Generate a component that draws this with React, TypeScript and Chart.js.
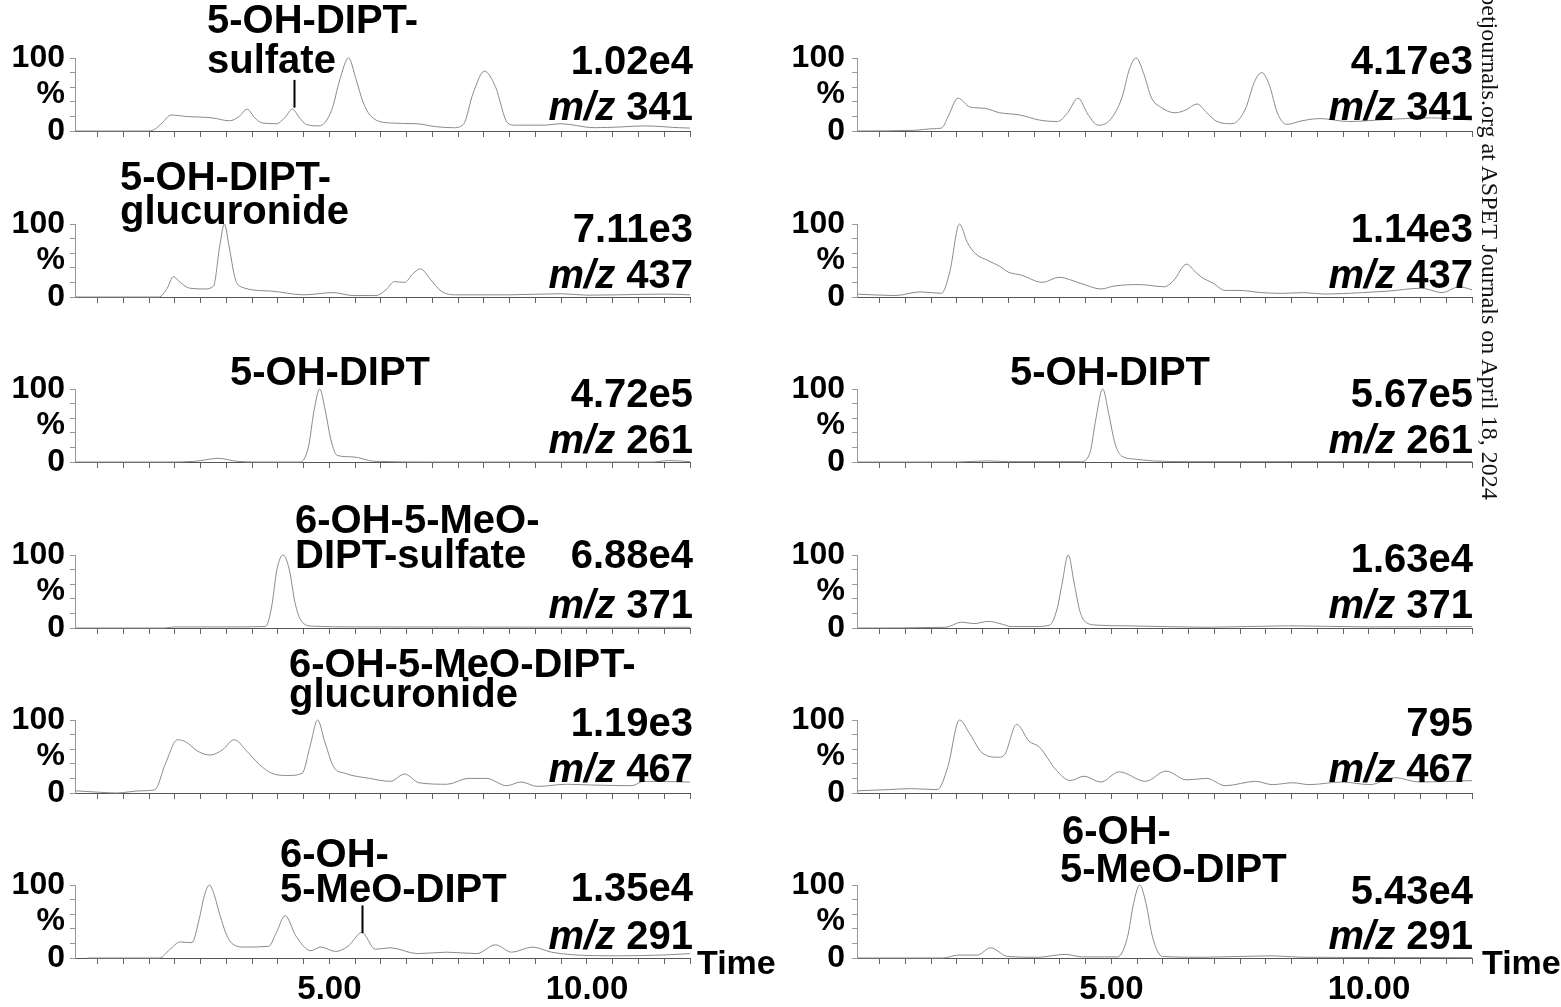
import React, { useEffect, useRef } from 'react';
import { Chart, registerables } from 'chart.js';

Chart.register(...registerables);

// ---------------- data ----------------
const X_TICKS = [0.5, 1, 1.5, 2, 2.5, 3, 3.5, 4, 4.5, 5, 5.5, 6, 6.5, 7, 7.5, 8, 8.5, 9, 9.5, 10, 10.5, 11, 11.5, 12];
const X_TICK_LABELS: Record<string, string> = { '5': '5.00', '10': '10.00' };
const Y_TICKS = [0, 20, 40, 50, 60, 80, 100];
const Y_TICK_LABELS: Record<string, string> = { '0': '0', '50': '%', '100': '100' };

const MZ_LEFT = ['341', '437', '261', '371', '467', '291'];
const MZ_RIGHT = ['341', '437', '261', '371', '467', '291'];
const INTENSITY_LEFT = ['1.02e4', '7.11e3', '4.72e5', '6.88e4', '1.19e3', '1.35e4'];
const INTENSITY_RIGHT = ['4.17e3', '1.14e3', '5.67e5', '1.63e4', '795', '5.43e4'];

// [time (min), relative abundance %]
const L1: [number, number][] = [[0.06,0],[1.45,0],[1.6,2],[1.75,11],[1.93,22],[2.2,20],[2.72,18],[3.06,14],[3.25,20],[3.4,30],[3.55,18],[3.7,11],[3.97,10],[4.13,18],[4.28,30],[4.42,18],[4.55,9],[4.8,7],[5.04,28],[5.2,70],[5.37,100],[5.52,70],[5.65,40],[5.81,20],[6.19,11],[6.68,10],[7.06,6],[7.4,4.5],[7.6,9],[7.79,52],[8.01,82],[8.22,61],[8.46,11],[8.61,8],[9.19,8],[9.48,10],[10.15,4.5],[10.64,5.5],[11.12,7],[11.79,4.5],[12,4]];
const L2: [number, number][] = [[0.06,0],[1.69,0],[1.85,12],[1.97,28],[2.1,20],[2.29,12],[2.57,11],[2.75,15],[2.87,70],[2.96,100],[3.05,70],[3.17,25],[3.28,14],[3.88,8],[4.5,3],[5.07,6],[5.46,2],[5.9,2],[6.1,10],[6.26,21],[6.46,20],[6.62,32],[6.77,38.5],[6.95,25],[7.17,8],[7.45,3],[8.5,3],[9.5,4.5],[10.0,2.5],[10.6,3],[11.5,4],[12,3]];
const L3: [number, number][] = [[0.06,0],[1.85,0],[2.4,1],[2.84,5],[3.2,1],[3.6,0],[4.43,0],[4.59,20],[4.7,70],[4.81,100],[4.92,70],[5.03,30],[5.15,9],[5.46,7],[5.86,1],[7.0,0],[11.3,0],[11.58,2],[12,0.5]];
const L4: [number, number][] = [[0.06,0],[1.8,0],[2.0,1.5],[3.0,1.5],[3.76,2],[3.88,30],[3.98,80],[4.1,100],[4.22,80],[4.33,35],[4.45,10],[4.67,2.5],[5.5,1.5],[12,1]];
const L5: [number, number][] = [[0.06,3],[0.54,1],[0.86,0],[1.33,3],[1.61,4.5],[1.81,39],[2.05,73],[2.21,70],[2.45,57],[2.68,52],[2.92,59],[3.15,73],[3.4,57],[3.64,39],[3.88,27],[4.19,24],[4.47,27],[4.63,66],[4.77,100],[4.91,70],[5.08,36],[5.3,27],[5.78,20],[6.18,16],[6.46,26],[6.74,14],[7.29,12],[7.69,20],[8.05,20],[8.44,10],[8.72,15],[9.04,9],[9.6,12],[10.07,11],[10.87,10],[11.1,16],[12,15]];
const L6: [number, number][] = [[0.3,0],[1.7,0],[1.9,11.5],[2.1,22],[2.33,21],[2.47,53],[2.57,85],[2.67,100],[2.77,85],[2.86,62],[3.05,25],[3.34,15],[3.82,16],[3.97,35],[4.14,58],[4.35,30],[4.64,10],[4.83,15],[5.12,9],[5.36,16],[5.63,35],[5.89,12],[6.18,14],[6.71,6],[7.28,8],[7.86,6],[8.22,18],[8.54,8],[8.94,15],[9.31,8],[9.69,4.6],[10.65,3],[11.42,4],[12,6]];

const R1: [number, number][] = [[0.06,0],[1.2,1],[1.5,3],[1.7,4],[1.83,20],[2.02,45],[2.25,33],[2.54,31],[2.83,25],[3.22,22],[3.6,15],[3.95,13],[4.15,25],[4.35,45],[4.55,22],[4.74,8],[4.97,15],[5.2,45],[5.35,85],[5.48,100],[5.62,80],[5.78,45],[5.95,33],[6.23,25],[6.45,29],[6.66,37],[6.85,25],[7.05,13],[7.34,10],[7.6,30],[7.78,68],[7.92,80],[8.07,62],[8.22,25],[8.4,9],[8.7,14],[9.05,17],[9.6,13],[10.4,16],[11.2,18],[12,15]];
const R2: [number, number][] = [[0.06,4],[0.8,2],[1.29,7],[1.7,5],[1.86,34],[2.05,100],[2.2,75],[2.35,60],[2.6,50],[2.83,42],[3.0,34],[3.25,30],[3.66,20],[3.98,27],[4.39,19],[4.8,11],[5.05,15],[5.54,17],[6.03,14],[6.2,22],[6.46,45],[6.62,35],[6.75,27],[6.97,19],[7.21,9],[7.5,9],[7.91,6],[8.32,5],[8.73,6],[9.14,4],[9.87,6],[10.36,8],[11.02,12],[11.42,6],[11.75,14],[12,10]];
const R3: [number, number][] = [[0.06,0],[2.0,0],[2.6,1.5],[3.0,0.5],[4.4,0.5],[4.58,12],[4.7,60],[4.83,100],[4.95,65],[5.07,25],[5.2,8],[5.45,4],[5.8,1.5],[6.5,0.5],[12,0.5]];
const R4: [number, number][] = [[0.06,0],[1.78,1],[2.09,8],[2.33,6],[2.61,9],[2.89,5],[3.05,2],[3.52,2],[3.8,4],[3.94,25],[4.04,60],[4.16,100],[4.28,60],[4.38,25],[4.47,10],[4.71,4],[5.27,3],[6.85,1],[8.44,3],[10.0,1.5],[12,2]];
const R5: [number, number][] = [[0.06,3],[0.67,4.6],[1.1,6],[1.62,4.6],[1.82,35],[2.05,100],[2.25,81],[2.49,55],[2.81,49],[2.93,53],[3.16,94],[3.4,71],[3.6,63],[3.92,32],[4.2,17],[4.47,23],[4.79,15],[5.15,29],[5.66,16],[6.06,30],[6.46,18],[6.85,20],[7.21,10],[7.8,16],[8.12,11.5],[8.52,14],[8.84,11.5],[9.47,15],[10.02,11.5],[10.5,21],[10.98,15],[12,17]];
const R6: [number, number][] = [[0.06,0],[1.73,0],[2.02,4],[2.4,4],[2.65,14],[2.99,2],[3.57,1],[4.1,5],[4.44,1.5],[5.12,1.5],[5.31,28],[5.43,75],[5.55,100],[5.67,75],[5.8,28],[5.99,2],[6.77,1],[8.12,3],[8.7,1],[12,0.5]];

const SERIES_LEFT = [L1, L2, L3, L4, L5, L6];
const SERIES_RIGHT = [R1, R2, R3, R4, R5, R6];

// ---------------- layout / style ----------------
const FONT = '"Liberation Sans", Arial, Helvetica, sans-serif';
const LABEL_SIZE = 40;
const X_MIN = 0.06;
const X_MAX = 12;
const ROW_BASE = [131, 297, 462, 628, 793, 958];
const CANVAS_W = 780;
const CANVAS_H = 200;
const BASE_IN_CANVAS = 150;
const PLOT_H = 73;
const COL = [
  { left: 0, axisX: 75, padRight: 90, textRight: 693, labelPad: 5, timeX: 697 },
  { left: 780, axisX: 77, padRight: 88, textRight: 1473, labelPad: 7, timeX: 1482 },
];

type Label = [string, number, number];
const LABELS_LEFT: Label[][] = [
  [['5-OH-DIPT-', 207, 33], ['sulfate', 207, 73]],
  [['5-OH-DIPT-', 120, 190], ['glucuronide', 120, 224]],
  [['5-OH-DIPT', 230, 385]],
  [['6-OH-5-MeO-', 295, 533], ['DIPT-sulfate', 295, 568]],
  [['6-OH-5-MeO-DIPT-', 289, 677], ['glucuronide', 289, 707]],
  [['6-OH-', 280, 867], ['5-MeO-DIPT', 280, 902]],
];
const LABELS_RIGHT: Label[][] = [
  [], [], [['5-OH-DIPT', 1010, 385]], [], [],
  [['6-OH-', 1062, 844], ['5-MeO-DIPT', 1060, 882]],
];
const INT_Y_LEFT = [74, 242, 407, 568, 736, 901];
const INT_Y_RIGHT = [74, 242, 407, 572, 736, 904];
const MZ_Y = [120, 288, 453, 618, 782, 949];
const MARKERS_LEFT: ({ t: number; v0: number; v1: number } | null)[] = [
  { t: 4.31, v0: 32, v1: 70 }, null, null, null, null, { t: 5.63, v0: 34, v1: 72 },
];

interface PanelSpec {
  col: number;
  row: number;
  series: [number, number][];
  intensity: string;
  mz: string;
  labels: Label[];
  intY: number;
  mzY: number;
  marker: { t: number; v0: number; v1: number } | null;
}

const PANELS: PanelSpec[] = [];
for (let r = 0; r < 6; r++) {
  PANELS.push({ col: 0, row: r, series: SERIES_LEFT[r], intensity: INTENSITY_LEFT[r], mz: MZ_LEFT[r], labels: LABELS_LEFT[r], intY: INT_Y_LEFT[r], mzY: MZ_Y[r], marker: MARKERS_LEFT[r] });
  PANELS.push({ col: 1, row: r, series: SERIES_RIGHT[r], intensity: INTENSITY_RIGHT[r], mz: MZ_RIGHT[r], labels: LABELS_RIGHT[r], intY: INT_Y_RIGHT[r], mzY: MZ_Y[r], marker: null });
}

function Panel({ spec }: { spec: PanelSpec }) {
  const ref = useRef<HTMLCanvasElement>(null);
  const col = COL[spec.col];
  const top = ROW_BASE[spec.row] - BASE_IN_CANVAS;
  const isBottom = spec.row === 5;

  useEffect(() => {
    if (!ref.current) return;
    const annot = {
      id: 'annot',
      afterDraw(chart: any) {
        const ctx = chart.ctx as CanvasRenderingContext2D;
        const ox = col.left;
        const oy = top;
        ctx.save();
        ctx.fillStyle = '#000';
        ctx.textBaseline = 'alphabetic';
        ctx.font = `bold ${LABEL_SIZE}px ${FONT}`;
        ctx.textAlign = 'left';
        spec.labels.forEach(([t, x, y]) => ctx.fillText(t, x - ox, y - oy));
        ctx.textAlign = 'right';
        ctx.fillText(spec.intensity, col.textRight - ox, spec.intY - oy);
        const num = ' ' + spec.mz;
        const wNum = ctx.measureText(num).width;
        ctx.fillText(num, col.textRight - ox, spec.mzY - oy);
        ctx.font = `italic bold ${LABEL_SIZE}px ${FONT}`;
        ctx.fillText('m/z', col.textRight - ox - wNum, spec.mzY - oy);
        if (spec.marker) {
          const xs = chart.scales.x;
          const ys = chart.scales.y;
          const px = Math.round(xs.getPixelForValue(spec.marker.t)) + 0.5;
          ctx.strokeStyle = '#000';
          ctx.lineWidth = 2;
          ctx.beginPath();
          ctx.moveTo(px, ys.getPixelForValue(spec.marker.v0));
          ctx.lineTo(px, ys.getPixelForValue(spec.marker.v1));
          ctx.stroke();
        }
        if (isBottom) {
          ctx.font = `bold 34px ${FONT}`;
          ctx.textAlign = 'left';
          ctx.fillText('Time', col.timeX - ox, ROW_BASE[5] + 16 - oy);
        }
        ctx.restore();
      },
    };

    const chart = new Chart(ref.current, {
      type: 'line',
      data: {
        datasets: [
          {
            data: spec.series.map(([x, y]) => ({ x, y })),
            borderColor: '#8a8a8a',
            borderWidth: 1,
            pointRadius: 0,
            fill: false,
            cubicInterpolationMode: 'monotone',
            clip: false as any,
          },
        ],
      },
      options: {
        animation: false,
        responsive: false,
        maintainAspectRatio: false,
        events: [],
        layout: {
          autoPadding: false,
          padding: { left: 0, right: col.padRight, top: BASE_IN_CANVAS - PLOT_H, bottom: 0 },
        },
        plugins: { legend: { display: false }, tooltip: { enabled: false } },
        scales: {
          x: {
            type: 'linear',
            min: X_MIN,
            max: X_MAX,
            afterBuildTicks: (s: any) => {
              s.ticks = X_TICKS.map((v) => ({ value: v }));
            },
            afterFit: (s: any) => {
              s.height = CANVAS_H - BASE_IN_CANVAS;
            },
            grid: { display: true, drawOnChartArea: false, drawTicks: true, tickLength: 6, tickColor: '#666', tickWidth: 1 },
            border: { display: true, color: '#555', width: 1 },
            ticks: {
              display: isBottom,
              autoSkip: false,
              maxRotation: 0,
              minRotation: 0,
              padding: 6,
              color: '#000',
              font: { family: FONT, size: 33, weight: 'bold' },
              callback: (v: any) => X_TICK_LABELS[String(v)] || '',
            },
          },
          y: {
            type: 'linear',
            min: 0,
            max: 100,
            afterBuildTicks: (s: any) => {
              s.ticks = Y_TICKS.map((v) => ({ value: v }));
            },
            afterFit: (s: any) => {
              s.width = col.axisX;
            },
            grid: {
              display: true,
              drawOnChartArea: false,
              drawTicks: true,
              tickLength: 5,
              tickWidth: 1,
              tickColor: (c: any) => (c.tick && c.tick.value === 50 ? 'rgba(0,0,0,0)' : '#999'),
            },
            border: { display: true, color: '#999', width: 1 },
            ticks: {
              autoSkip: false,
              padding: col.labelPad,
              color: '#000',
              font: { family: FONT, size: 32, weight: 'bold' },
              callback: (v: any) => Y_TICK_LABELS[String(v)] || '',
            },
          },
        },
      } as any,
      plugins: [annot],
    });
    return () => chart.destroy();
  }, []);

  return (
    <canvas
      ref={ref}
      width={CANVAS_W}
      height={CANVAS_H}
      style={{ position: 'absolute', left: col.left, top, width: CANVAS_W, height: CANVAS_H }}
    />
  );
}

export default function App() {
  return (
    <div
      style={{
        position: 'absolute',
        left: 0,
        top: 0,
        width: 1561,
        height: 1007,
        overflow: 'hidden',
        background: '#fff',
      }}
    >
      {PANELS.map((p) => (
        <Panel key={`${p.col}-${p.row}`} spec={p} />
      ))}
      <div
        style={{
          position: 'absolute',
          left: 1476,
          bottom: 507,
          writingMode: 'vertical-rl',
          whiteSpace: 'nowrap',
          fontFamily: '"Liberation Serif", "Times New Roman", serif',
          fontSize: 24,
          lineHeight: '28px',
          color: '#111',
        }}
      >
        Downloaded from jpet.aspetjournals.org at ASPET Journals on April 18, 2024
      </div>
    </div>
  );
}
